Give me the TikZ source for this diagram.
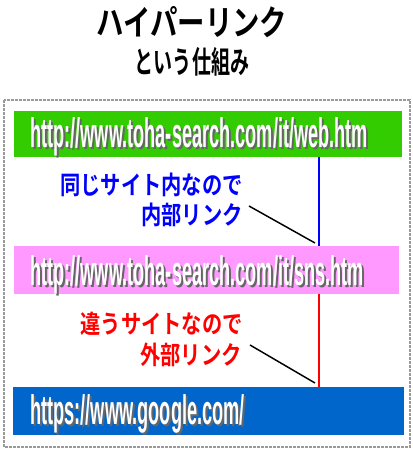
\documentclass[tikz,border=0pt]{standalone}
\usepackage{fontspec}
\usetikzlibrary{positioning}
\newfontfamily\titlefont{Noto Sans CJK JP Bold}[FakeStretch=0.79]
\newfontfamily\subfont{Noto Sans CJK JP Bold}[FakeStretch=0.62]
\newfontfamily\notefont{Noto Sans CJK JP Bold}[FakeStretch=0.8]
\newfontfamily\urlfont{Liberation Sans}[FakeStretch=0.44]
\definecolor{webgreen}{HTML}{33CC00}
\definecolor{snspink}{HTML}{FF99FF}
\definecolor{googleblue}{HTML}{0066CC}
\definecolor{framegray}{HTML}{9A9A9A}

\begin{document}
\begin{tikzpicture}[x=0.75pt, y=-0.75pt,
    urlbox/.style={inner sep=0pt, minimum height=36pt},
    urltext/.style={anchor=base west, inner sep=0pt, text=white, font=\urlfont\bfseries\fontsize{31}{31}\selectfont},
    urlshadow/.style={urltext, text=black!60},
    note/.style={anchor=east, inner sep=0pt, font=\notefont\fontsize{19}{19}\selectfont}
]
    \useasboundingbox (0,0) rectangle (413,449);
    % Title
    \node at (192, 22) [font=\titlefont\fontsize{26}{26}\selectfont](title){ハイパーリンク};
    \node at (192, 62) [font=\subfont\fontsize{23}{23}\selectfont](subtitle){という仕組み};
    % - [Frame]
    \draw [framegray, line width=1.5pt, dash pattern=on 2pt off 1pt] (4, 100) rectangle (410, 447) ;

    % URL boxes
    \node at (208, 134) [urlbox, fill=webgreen, minimum width=291pt, minimum height=34.5pt](box_web){};
    \node at (206.5, 270) [urlbox, fill=snspink, minimum width=288.75pt](box_sns){};
    \node at (208.5, 411) [urlbox, fill=googleblue, minimum width=293.25pt](box_google){};
    % -- The url texts (shadow first)
    \node at (32, 149) [urlshadow](shadow_web){http://www.toha-search.com/it/web.htm};
    \node at (30, 147) [urltext](url_web){http://www.toha-search.com/it/web.htm};
    \node at (32, 287) [urlshadow](shadow_sns){http://www.toha-search.com/it/sns.htm};
    \node at (30, 285) [urltext](url_sns){http://www.toha-search.com/it/sns.htm};
    \node at (32, 426) [urlshadow](shadow_google){https://www.google.com/};
    \node at (30, 424) [urltext](url_google){https://www.google.com/};

    % Links between the boxes
    \coordinate (link_x) at (319, 0);
    \draw [blue, line width=1.2pt] (box_web.south -| link_x) -- (box_sns.north -| link_x) ;
    \draw [red, line width=1.2pt] (box_sns.south -| link_x) -- (box_google.north -| link_x) ;

    % - [Internal link]
    \node at (243, 185) [note, text=blue](note_same){同じサイト内なので};
    \node at (243, 214.5) [note, text=blue](note_internal){内部リンク};
    \coordinate (internal_from) at (249, 206);
    \coordinate (internal_to) at (315, 243);
    \draw [line width=1.1pt] (internal_from) -- (internal_to) ;
    % - [External link]
    \node at (243, 323.5) [note, text=red](note_other){違うサイトなので};
    \node at (242, 355) [note, text=red](note_external){外部リンク};
    \coordinate (external_from) at (250, 345);
    \coordinate (external_to) at (315, 383);
    \draw [line width=1.1pt] (external_from) -- (external_to) ;
\end{tikzpicture}
\end{document}
